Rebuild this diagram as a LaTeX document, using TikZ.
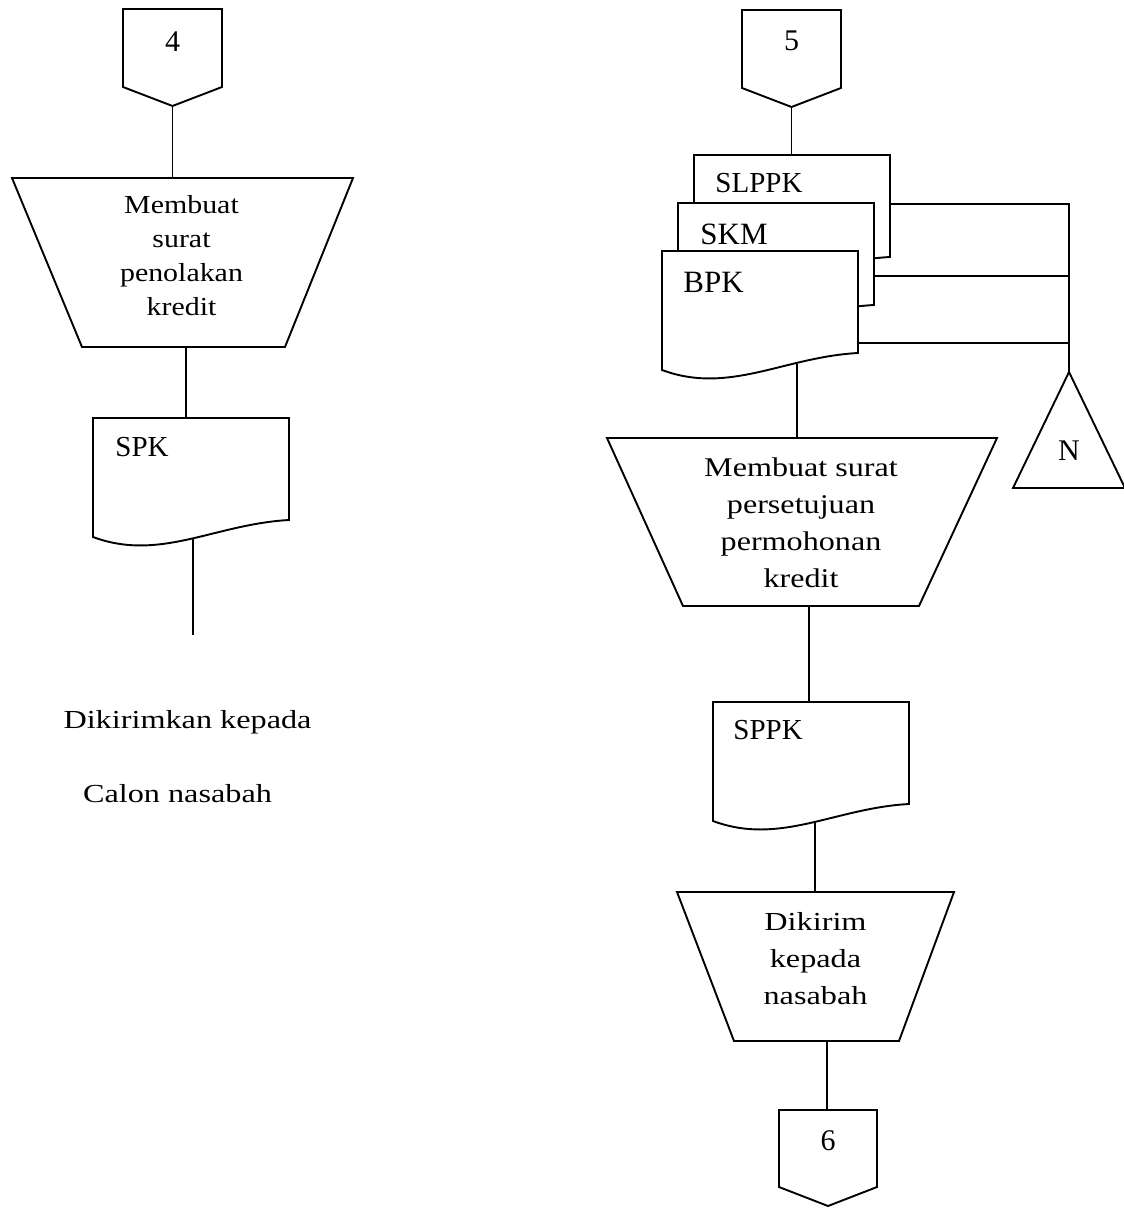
\documentclass[tikz,border=0pt]{standalone}
\usepackage{fontspec}
\setmainfont{Liberation Serif}
\newfontfamily\widefont{Liberation Serif}[FakeStretch=1.24]
\newfontfamily\widefontb{Liberation Serif}[FakeStretch=1.15]
\newfontfamily\widefontc{Liberation Serif}[FakeStretch=1.19]
\usetikzlibrary{calc}
\newcommand{\docshape}[1]{%
  \draw[shp, fill=white] (#1.north west) -- (#1.north east) -- ($(#1.south east)+(0,-17)$)
    .. controls ($(#1.south west)+(122,-13)$) and ($(#1.south west)+(67,25)$) .. (#1.south west) -- cycle;}
\newcommand{\offpage}[1]{%
  \draw[shp] (#1.north west) -- (#1.north east) -- ($(#1.south east)+(0,-19)$) -- (#1.south) -- ($(#1.south west)+(0,-19)$) -- cycle;}
\newcommand{\trapshape}[3]{%
  \draw[shp] (#1.north west) -- (#1.north east) -- ($(#1.south east)+(-#3,0)$) -- ($(#1.south west)+(#2,0)$) -- cycle;}
\begin{document}
\begin{tikzpicture}[x=0.5pt,y=-0.5pt,
  shp/.style={line width=0.95pt, line join=miter},
  conn/.style={line width=0.7pt},
  box/.style={rectangle, inner sep=0pt, outer sep=0pt},
  docbox/.style={box, minimum width=98pt, minimum height=59.5pt, anchor=north west},
  offbox/.style={box, minimum width=49.5pt, minimum height=48.5pt, anchor=north west},
  lbl/.style={anchor=base, inner sep=0pt, font=\fontsize{15}{18}\selectfont},
  doclbl/.style={anchor=base west, inner sep=0pt, font=\fontsize{14.5}{17}\selectfont},
  doclblb/.style={anchor=base west, inner sep=0pt, font=\fontsize{15.5}{18}\selectfont},
  note/.style={anchor=base, inner sep=0pt, font=\widefont\fontsize{13}{16}\selectfont}
]
\useasboundingbox (0,0) rectangle (1123,1213);

% ---------------- left column ----------------
\node[offbox] (c4) at (123,9) {};
\offpage{c4}
\node[lbl] (c4t) at ($(c4.north)+(0,42.7)$) {4};

\node[box, minimum width=170.5pt, minimum height=84.5pt] (t1) at (182.5,262.5) {};
\trapshape{t1}{70}{68}
\node[box, align=center, font=\widefontb\fontsize{13}{16.85}\selectfont] (t1t) at (181.5,255.6) {Membuat\\surat\\penolakan\\kredit};

\node[docbox] (spk) at (93,418) {};
\docshape{spk}
\node[doclbl] (spkt) at (115,456) {SPK};

\coordinate (spkend) at (193,635);
\node[note] (d1) at (187.5,728) {Dikirimkan kepada};
\node[note] (d2) at (177.5,802) {Calon nasabah};

\draw[conn] (c4.south) -- (c4.south |- t1.north);
\draw[conn] ($(t1.south)+(3.5,0)$) coordinate (a1) -- (a1 |- spk.north);
\draw[conn] ($(spk.north west)+(100,121)$) -- (spkend);

% ---------------- right column ----------------
\node[offbox] (c5) at (742,10) {};
\offpage{c5}
\node[lbl] (c5t) at ($(c5.north)+(0,40.7)$) {5};

\node[docbox] (slppk) at (694,155) {};
\docshape{slppk}
\node[doclbl] (slppkt) at (715,193) {SLPPK};
\node[docbox] (skm) at (678,203) {};
\docshape{skm}
\node[doclblb] (skmt) at (700,245) {SKM};
\node[docbox] (bpk) at (662,251) {};
\docshape{bpk}
\node[doclblb] (bpkt) at (683,292.7) {BPK};

\coordinate (ntop) at (1069,372);
\draw[shp] (ntop) -- (1125,488) -- (1013,488) -- cycle;
\node[anchor=base, inner sep=0pt, font=\fontsize{15}{18}\selectfont] (nt) at (1069,460) {N};

\draw[conn] ($(slppk.north east)+(0,49)$) -| (ntop);
\draw[conn] ($(skm.north east)+(0,73)$) coordinate (s2) -- (s2 -| ntop);
\draw[conn] ($(bpk.north east)+(0,92)$) coordinate (s3) -- (s3 -| ntop);

\node[box, minimum width=195pt, minimum height=84pt] (t2) at (802,522) {};
\trapshape{t2}{76}{78}
\node[box, align=center, font=\widefontc\fontsize{13.5}{18.35}\selectfont] (t2t) at (801,522.8) {Membuat surat\\persetujuan\\permohonan\\kredit};

\node[docbox] (sppk) at (713,702) {};
\docshape{sppk}
\node[doclbl] (sppkt) at (733,739.3) {SPPK};

\node[box, minimum width=138.5pt, minimum height=74.5pt] (t3) at (815.5,966.5) {};
\trapshape{t3}{57}{55}
\node[box, align=center, font=\widefont\fontsize{13}{18.5}\selectfont] (t3t) at (815.5,959) {Dikirim\\kepada\\nasabah};

\node[offbox, minimum width=49pt, minimum height=48pt] (c6) at (779,1110) {};
\offpage{c6}
\node[lbl] (c6t) at ($(c6.north)+(0,40)$) {6};

\draw[conn] (c5.south) -- (c5.south |- slppk.north);
\draw[conn] ($(bpk.north west)+(135,113)$) coordinate (b1) -- (b1 |- t2.north);
\draw[conn] ($(t2.south)+(7,0)$) coordinate (b2) -- (b2 |- sppk.north);
\draw[conn] ($(sppk.north west)+(102,120)$) coordinate (b3) -- (b3 |- t3.north);
\draw[conn] ($(t3.south)+(11.5,0)$) coordinate (b4) -- (b4 |- c6.north);
\end{tikzpicture}
\end{document}
